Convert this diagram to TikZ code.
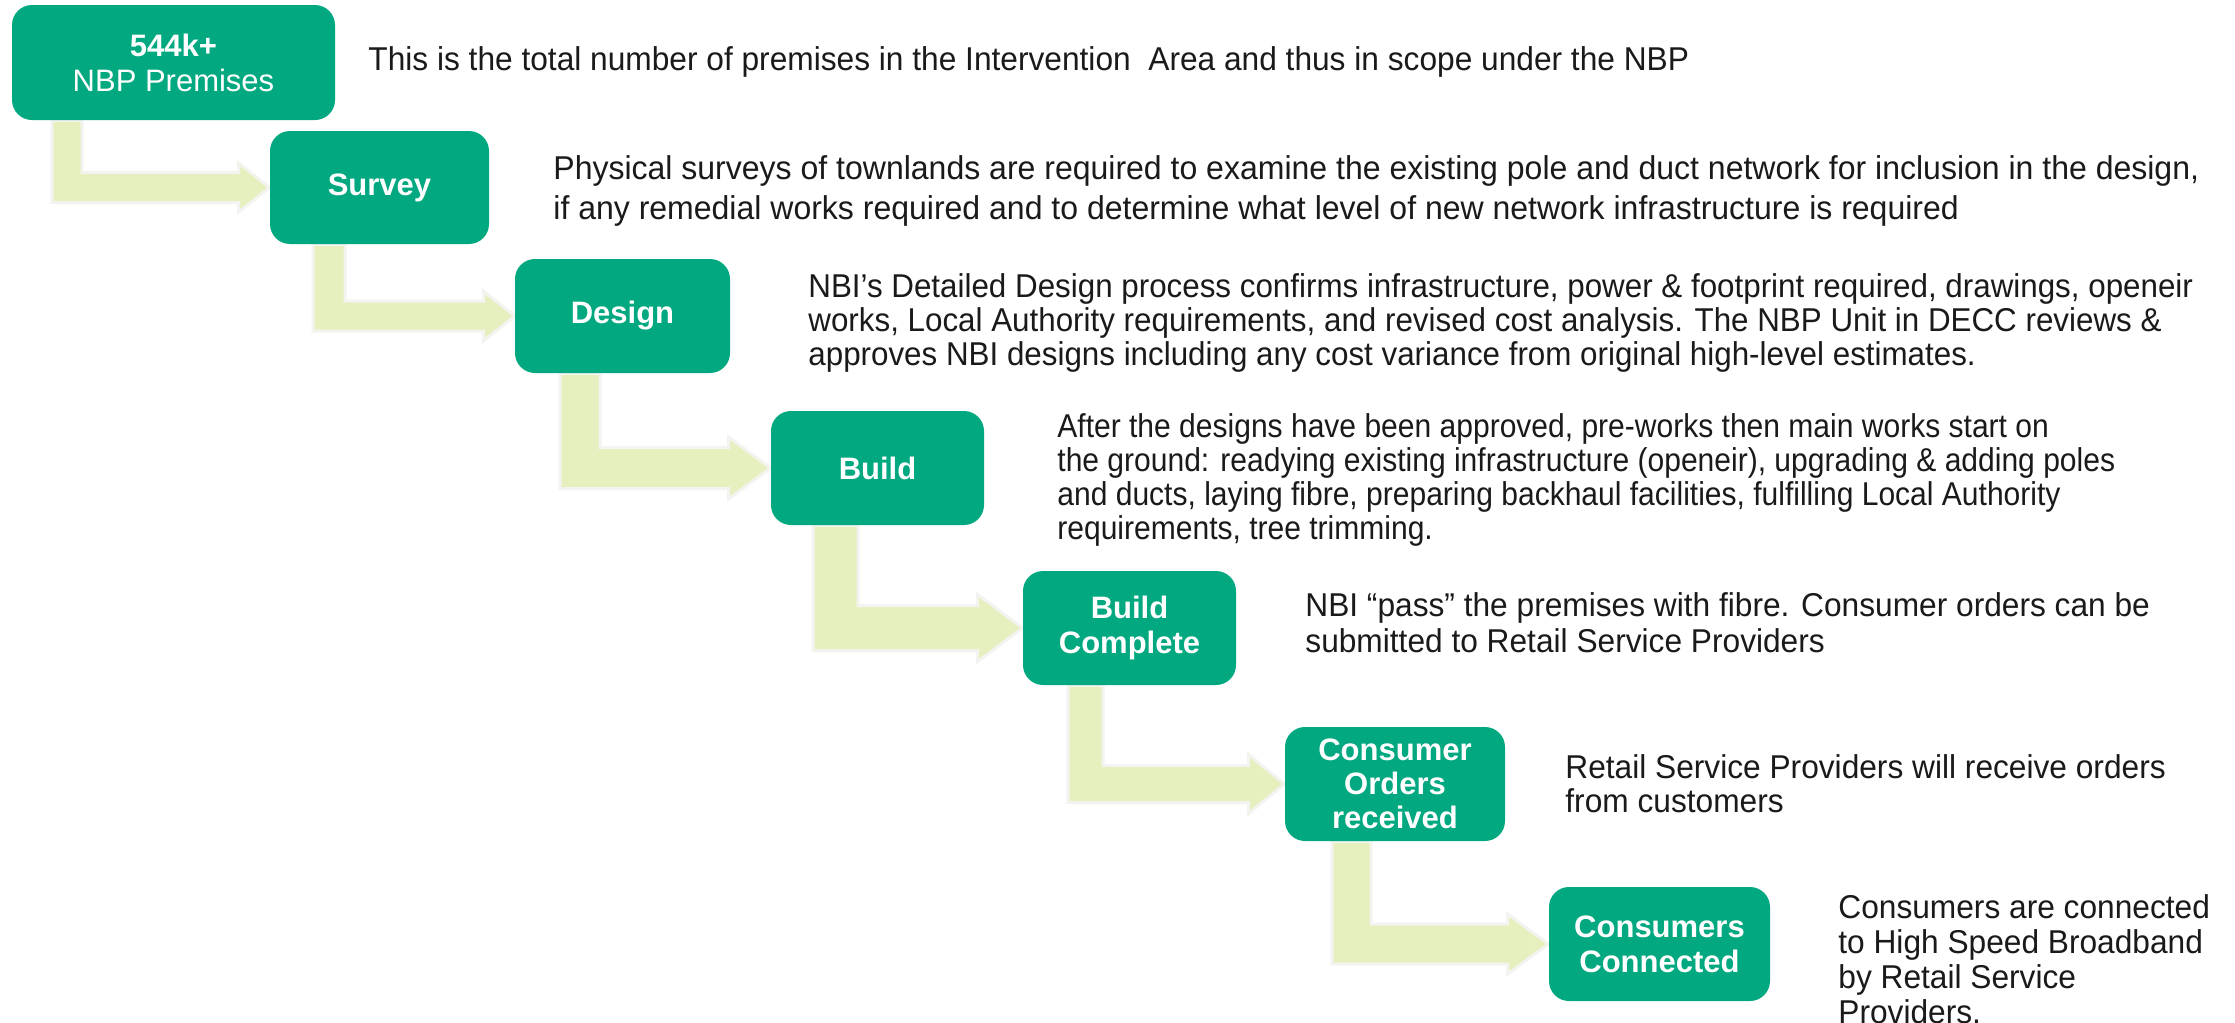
\documentclass[tikz,border=0pt]{standalone}
\usepackage{fontspec}
\setmainfont{Liberation Sans}
\newfontfamily\dA[FakeStretch=0.96]{Liberation Sans}
\newfontfamily\dB[FakeStretch=0.95]{Liberation Sans}
\newfontfamily\dC[FakeStretch=0.91]{Liberation Sans}
\newfontfamily\dD[FakeStretch=0.97]{Liberation Sans}
\usetikzlibrary{calc}
\definecolor{boxgreen}{RGB}{2,168,128}
\definecolor{arrowfill}{RGB}{230,240,190}
\definecolor{arrowedge}{RGB}{243,243,240}
\definecolor{txt}{RGB}{26,26,26}
\pgfdeclarelayer{background}
\pgfsetlayers{background,main}
\tikzset{
  stepbox/.style={fill=boxgreen, rounded corners=10pt, text=white,
    font=\bfseries\fontsize{15.5}{17.5}\selectfont, align=center, inner sep=0pt},
  desc/.style={anchor=west, align=left, text=txt, inner sep=0pt},
  elbowarrow/.style={fill=arrowfill, draw=arrowedge, line width=1.5pt, line join=miter},
}
% src, tgt, xl, xr, half-thickness, head length, head half-height
\newcommand\elbowarr[7]{%
  \coordinate (tmpl) at (#3,0);
  \coordinate (tmpr) at (#4,0);
  \draw[elbowarrow] (tmpl |- #1.south) -- ($(tmpl |- #2.west)+(0,#5)$)
    -- ($(#2.west)+(-#6,#5)$) -- ($(#2.west)+(-#6,#7)$) -- (#2.west)
    -- ($(#2.west)+(-#6,-#7)$) -- ($(#2.west)+(-#6,-#5)$)
    -- ($(tmpr |- #2.west)+(0,-#5)$) -- (tmpr |- #1.south) -- cycle;}
\begin{document}
\begin{tikzpicture}[x=0.5pt,y=-0.5pt]
\useasboundingbox (0,0) rectangle (2235,1023);
% boxes
\node[stepbox, minimum width=161.5pt, minimum height=57.5pt] (b1) at (173.5,62.5)
  {544k+\\\mdseries NBP Premises};
\node[stepbox, minimum width=109.5pt, minimum height=56.5pt] (b2) at (379.5,187.5) {Survey};
\node[stepbox, minimum width=107.5pt, minimum height=57pt] (b3) at (622.5,316) {Design};
\node[stepbox, minimum width=106.5pt, minimum height=57pt] (b4) at (877.5,468) {Build};
\node[stepbox, minimum width=106.5pt, minimum height=57pt] (b5) at (1129.5,628) {Build\\Complete};
\node[stepbox, minimum width=110pt, minimum height=57pt, font=\bfseries\fontsize{15.5}{17}\selectfont] (b6) at (1395,784) {Consumer\\Orders\\received};
\node[stepbox, minimum width=110.5pt, minimum height=57pt] (b7) at (1659.5,944) {Consumers\\Connected};
% arrows
\begin{pgfonlayer}{background}
\fill[white] (0,0) rectangle (2235,1023);
\elbowarr{b1}{b2}{52}{82}{15}{31}{24.5}
\elbowarr{b2}{b3}{313}{345}{15}{31}{25}
\elbowarr{b3}{b4}{560}{600}{20.5}{42}{31}
\elbowarr{b4}{b5}{813}{858}{22.5}{45}{33.5}
\elbowarr{b5}{b6}{1068}{1103}{18.5}{36}{29.5}
\elbowarr{b6}{b7}{1332}{1371}{20}{41}{30}
\end{pgfonlayer}
% descriptions
\node[desc, font=\dA\fontsize{16.5}{20}\selectfont] (t1) at (368,62)
  {This is the total number of premises in the Intervention\ \ Area and thus in scope under the NBP};
\node[desc, font=\dD\fontsize{16.5}{20}\selectfont] (t2) at (553,191)
  {Physical surveys of townlands are required to examine the existing pole and duct network for inclusion in the design,\\
   if any remedial works required and to determine what level of new network infrastructure is required};
\node[desc, font=\dB\fontsize{16.5}{17}\selectfont] (t3) at (808,323)
  {NBI’s Detailed Design process confirms infrastructure, power \& footprint required, drawings, openeir\\
   works, Local Authority requirements, and revised cost analysis. The NBP Unit in DECC reviews \&\\
   approves NBI designs including any cost variance from original high-level estimates.};
\node[desc, font=\dC\fontsize{16.5}{17}\selectfont] (t4) at (1057,480)
  {After the designs have been approved, pre-works then main works start on\\
   the ground: readying existing infrastructure (openeir), upgrading \& adding poles\\
   and ducts, laying fibre, preparing backhaul facilities, fulfilling Local Authority\\
   requirements, tree trimming.};
\node[desc, font=\dA\fontsize{16.5}{18}\selectfont] (t5) at (1305,623)
  {NBI “pass” the premises with fibre. Consumer orders can be\\
   submitted to Retail Service Providers};
\node[desc, font=\dA\fontsize{16.5}{17}\selectfont] (t6) at (1565,784)
  {Retail Service Providers will receive orders\\
   from customers};
\node[desc, font=\dA\fontsize{16.5}{17.5}\selectfont] (t7) at (1838,959)
  {Consumers are connected\\
   to High Speed Broadband\\
   by Retail Service\\
   Providers.};
\end{tikzpicture}
\end{document}
